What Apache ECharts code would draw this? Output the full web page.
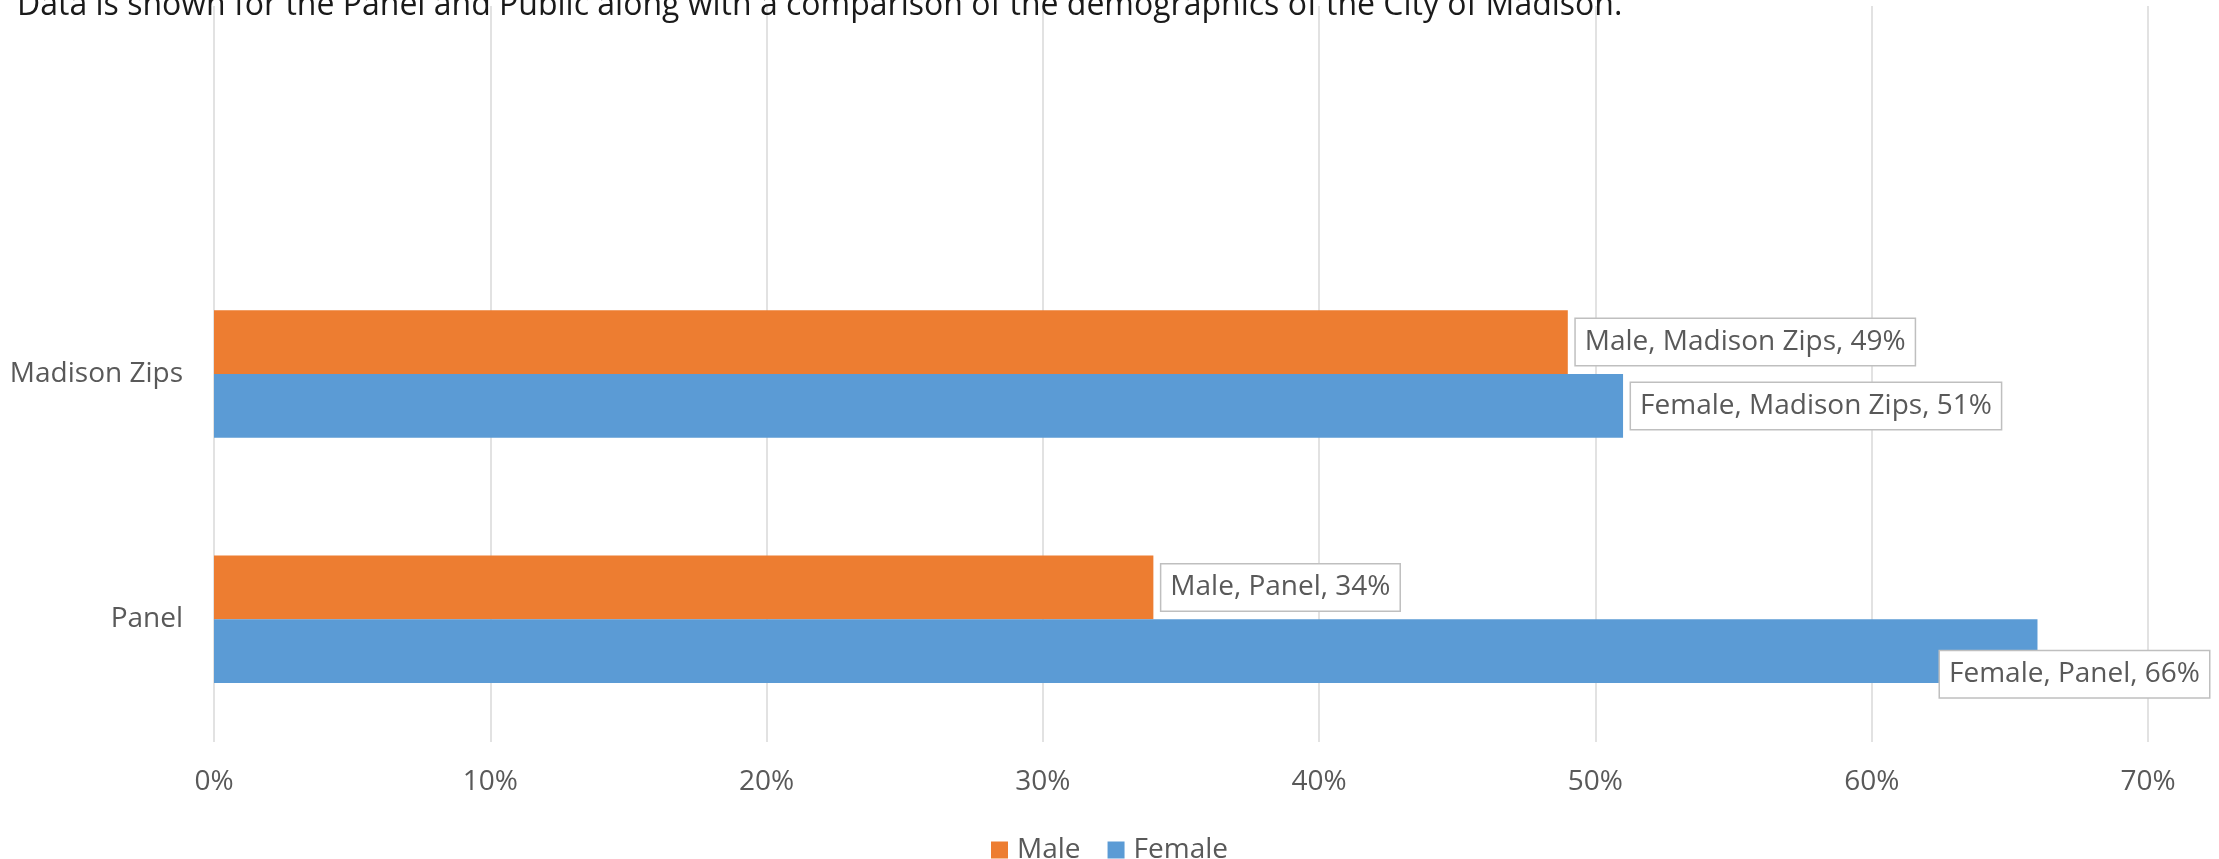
<!DOCTYPE html>
<html>
<head>
<meta charset="utf-8">
<title>Panel vs Madison gender</title>
<script src="https://cdn.jsdelivr.net/npm/echarts@6/dist/echarts.min.js"></script>
<style>
  html, body { margin: 0; padding: 0; background: #fff; }
  #chart { width: 2219px; height: 859px; }
</style>
</head>
<body>
<div id="chart"></div>
<script>
// categories bottom -> top (top row is an empty slot, as in the original)
const categories = ['Panel', 'Madison Zips', ''];
const maleValues = [0.34, 0.49, null];
const femaleValues = [0.66, 0.51, null];
const xTicks = [0, 0.1, 0.2, 0.3, 0.4, 0.5, 0.6, 0.7];
const noteText = 'Data is shown for the Panel and Public along with a comparison of the demographics of the City of Madison.';

const FONT = '"Open Sans", sans-serif';
const chart = echarts.init(document.getElementById('chart'));

function pct(v) {
  return Math.round(v * 100) + '%';
}

function labelStyle() {
  return {
    show: true,
    position: 'right',
    distance: 8,
    fontFamily: FONT,
    fontSize: 28,
    color: '#595959',
    backgroundColor: '#fff',
    borderColor: '#bfbfbf',
    borderWidth: 1.5,
    padding: [9, 9],
    formatter: p => p.seriesName + ', ' + p.name + ', ' + pct(p.value)
  };
}

chart.setOption({
  animation: false,
  textStyle: { fontFamily: FONT },
  grid: {
    left: 214,
    right: 71,
    top: 6,
    bottom: 117,
    containLabel: false
  },
  xAxis: {
    type: 'value',
    min: xTicks[0],
    max: xTicks[xTicks.length - 1],
    interval: 0.1,
    axisLine: { show: false },
    axisTick: { show: false },
    splitLine: { lineStyle: { color: '#d9d9d9', width: 1.5 } },
    axisLabel: {
      margin: 26,
      fontSize: 28,
      color: '#595959',
      formatter: v => pct(v)
    }
  },
  yAxis: {
    type: 'category',
    data: categories,
    axisLine: { show: false },
    axisTick: { show: false },
    axisLabel: {
      margin: 31,
      fontSize: 28,
      color: '#595959'
    }
  },
  legend: {
    data: ['Male', 'Female'],
    left: 'center',
    top: 831,
    icon: 'rect',
    itemWidth: 17,
    itemHeight: 17,
    itemGap: 27,
    textStyle: { fontSize: 28, color: '#595959', padding: [0, 0, 0, 4] }
  },
  // keep labels inside the canvas (the 66% one gets pulled back over its bar)
  labelLayout: function (params) {
    const r = params.labelRect;
    const limit = chart.getWidth() - 7;
    if (r.x + r.width > limit) {
      return { x: limit - r.width };
    }
  },
  series: [
    {
      name: 'Male',
      type: 'bar',
      data: maleValues,
      barGap: '0%',
      barCategoryGap: '48%',
      itemStyle: { color: '#ed7d31' },
      label: labelStyle()
    },
    {
      name: 'Female',
      type: 'bar',
      data: femaleValues,
      barGap: '0%',
      barCategoryGap: '48%',
      itemStyle: { color: '#5b9bd5' },
      label: labelStyle()
    }
  ],
  graphic: [
    {
      type: 'text',
      left: 17,
      top: -10,
      z: 100,
      style: {
        text: noteText,
        font: '32px ' + FONT,
        fill: '#1a1a1a'
      }
    }
  ]
});
</script>
</body>
</html>
